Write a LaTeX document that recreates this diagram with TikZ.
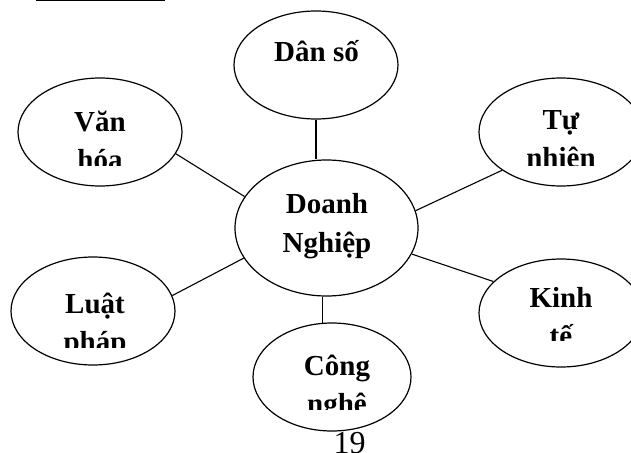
\documentclass[tikz,border=0pt]{standalone}
\usepackage{fontspec}
\setmainfont{Liberation Serif}
\usetikzlibrary{shapes.geometric,backgrounds}
\begin{document}
\begin{tikzpicture}[x=1pt,y=-1pt,
  bubble/.style={ellipse,draw,fill=white,line width=1.2pt,inner sep=0pt,
                 minimum width=164pt,minimum height=108pt},
  link/.style={line width=1.1pt},
  word/.style={anchor=base,inner sep=0pt,font=\fontsize{29}{38}\selectfont\bfseries},
  pagenum/.style={anchor=base,inner sep=0pt,font=\fontsize{32}{36}\selectfont}]
\useasboundingbox (0,0) rectangle (631,452);

% rule left over from the heading above
\fill (36,0) rectangle (165,1.3);

% ellipses
\node[bubble,minimum width=183pt,minimum height=136pt] (dn) at (326.5,228) {};
\node[bubble] (ds) at (316,65) {};
\node[bubble] (vh) at (100,132) {};
\node[bubble] (tn) at (561,132) {};
\node[bubble] (lp) at (93,311) {};
\node[bubble] (kt) at (561,313) {};
\node[bubble,minimum width=158pt] (cn) at (332,377) {};

% connectors behind the ellipses
\begin{pgfonlayer}{background}
\draw[link] (ds.south) -- (ds.south |- dn.north);
\draw[link] (vh.-16.6) -- (dn.159.5);
\draw[link] (tn.-147.4) -- (dn.11.1);
\draw[link] (kt.155) -- (dn.-17.3);
\draw[link] (lp.11.7) -- (dn.200);
\draw[link] (cn.100) -- (cn.100 |- dn.south);
\end{pgfonlayer}

% labels, cut off at the bottom of each text frame
\node[word] (dsA) at (316.5,62) {Dân số};

\begin{scope}
\clip (220,150) rectangle (430,258);
\node[word] (dnA) at (327,213) {Doanh};
\node[word] (dnB) at (327,252) {Nghiệp};
\end{scope}

\begin{scope}
\clip (20,80) rectangle (180,165);
\node[word] (vhA) at (100,131) {Văn};
\node[word] (vhB) at (100,169) {hóa};
\end{scope}

\begin{scope}
\clip (480,80) rectangle (631,165);
\node[word] (tnA) at (561,129) {Tự};
\node[word] (tnB) at (561,167) {nhiên};
\end{scope}

\begin{scope}
\clip (14,260) rectangle (174,347);
\node[word] (lpA) at (95,313) {Luật};
\node[word] (lpB) at (95,351) {pháp};
\end{scope}

\begin{scope}
\clip (480,265) rectangle (631,340);
\node[word] (ktA) at (561,307) {Kinh};
\node[word] (ktB) at (561,345) {tế};
\end{scope}

\begin{scope}
\clip (256,325) rectangle (410,409);
\node[word] (cnA) at (337,375) {Công};
\node[word] (cnB) at (337,413) {nghệ};
\end{scope}

% page number
\node[pagenum] (pg) at (349.5,453.5) {19};
\end{tikzpicture}
\end{document}
